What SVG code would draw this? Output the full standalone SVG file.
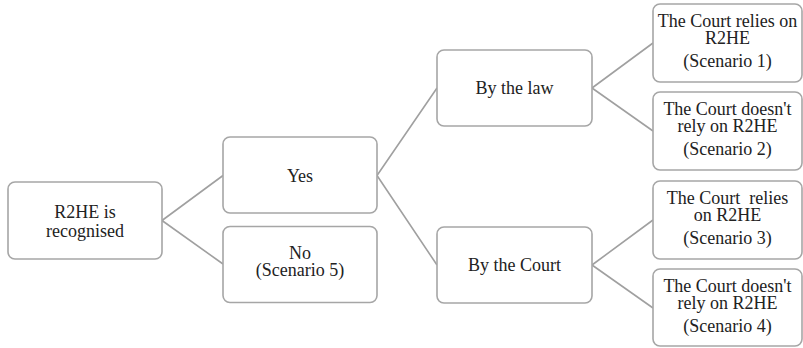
<svg xmlns="http://www.w3.org/2000/svg" width="803" height="348" viewBox="0 0 803 348">
<style>
.box{fill:#fff;stroke:#a6a6a6;stroke-width:1.6}
.ln{stroke:#a0a0a0;stroke-width:1.6;fill:none}
text{font-family:"Liberation Serif","Times New Roman",serif;font-size:18px;fill:#222;text-anchor:middle;white-space:pre}
</style>
<rect width="803" height="348" fill="#fff"/>
<g id="connectors">
<path class="ln" d="M162,220.5 L223,175.5 M162,220.5 L223,264"/>
<path class="ln" d="M377,175.5 L437,88 M377,175.5 L437,265"/>
<path class="ln" d="M592,88 L653,43 M592,88 L653,131"/>
<path class="ln" d="M592,265 L653,220 M592,265 L653,308"/>
</g>
<g id="root"><rect class="box" x="8" y="182" width="154" height="77" rx="7"/>
<text x="85" y="218">R2HE is</text><text x="85" y="237">recognised</text></g>
<g id="yes"><rect class="box" x="223" y="137" width="154" height="76" rx="7"/>
<text x="300" y="181.5">Yes</text></g>
<g id="no"><rect class="box" x="223" y="226.5" width="154" height="76" rx="7"/>
<text x="300" y="259">No</text><text x="300" y="276">(Scenario 5)</text></g>
<g id="bylaw"><rect class="box" x="437" y="50" width="155" height="76" rx="7"/>
<text x="514.5" y="94">By the law</text></g>
<g id="bycourt"><rect class="box" x="437" y="227" width="155" height="76" rx="7"/>
<text x="514.5" y="271">By the Court</text></g>
<g id="s1"><rect class="box" x="653" y="4" width="149" height="78" rx="7"/>
<text x="727.5" y="27">The Court relies on</text><text x="727.5" y="44">R2HE</text><text x="727.5" y="67">(Scenario 1)</text></g>
<g id="s2"><rect class="box" x="653" y="92" width="149" height="78" rx="7"/>
<text x="727.5" y="115">The Court doesn't</text><text x="727.5" y="132">rely on R2HE</text><text x="727.5" y="155">(Scenario 2)</text></g>
<g id="s3"><rect class="box" x="653" y="181" width="149" height="78" rx="7"/>
<text x="727.5" y="204">The Court  relies</text><text x="727.5" y="221">on R2HE</text><text x="727.5" y="244">(Scenario 3)</text></g>
<g id="s4"><rect class="box" x="653" y="269" width="149" height="77" rx="7"/>
<text x="727.5" y="292">The Court doesn't</text><text x="727.5" y="309">rely on R2HE</text><text x="727.5" y="332">(Scenario 4)</text></g>
</svg>
